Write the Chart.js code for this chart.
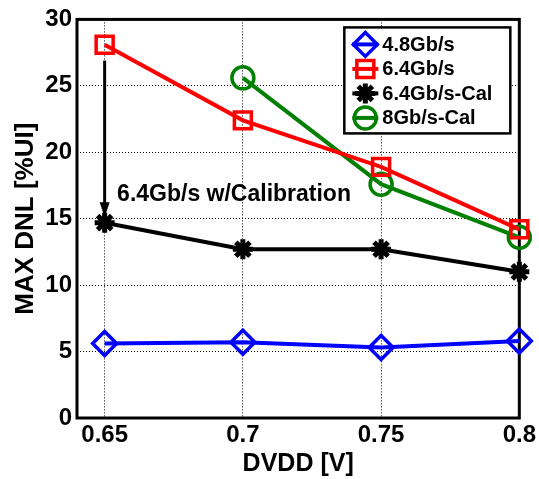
<!DOCTYPE html>
<html><head><meta charset="utf-8">
<script src="https://cdn.jsdelivr.net/npm/chart.js@4/dist/chart.umd.min.js"></script>
<style>html,body{margin:0;padding:0;background:#fff}#wrap{width:539px;height:479px}</style>
</head><body><div id="wrap"><canvas id="c" width="539" height="479"></canvas></div>
<script>
const xValues = [0.65, 0.7, 0.75, 0.8];
const xTickValues = [0.65, 0.7, 0.75, 0.8];
const xTickLabels = ['0.65', '0.7', '0.75', '0.8'];
const yTickValues = [0, 5, 10, 15, 20, 25, 30];
const seriesNames = ['4.8Gb/s', '6.4Gb/s', '6.4Gb/s-Cal', '8Gb/s-Cal'];
const s48 = [5.6, 5.7, 5.3, 5.8];
const s64 = [28.1, 22.4, 18.9, 14.2];
const s64cal = [14.7, 12.7, 12.7, 11.0];
const s8cal = [null, 25.6, 17.6, 13.6];
const xTitle = 'DVDD [V]';
const yTitle = 'MAX DNL [%UI]';
const annotationText = '6.4Gb/s w/Calibration';
const arrowFrom = [0.65, 26.9];
const arrowTo = [0.65, 15.1];
const annotationPos = [0.6545, 16.8];

const FONT = "'Liberation Sans', Arial, sans-serif";
const toPts = arr => xValues.map((x, i) => ({x: x, y: arr[i]})).filter(p => p.y !== null);

const styles = [
  {color: '#0000ff', pointStyle: 'rectRot', radius: 12, bw: 3.5},
  {color: '#ff0000', pointStyle: 'rect', radius: 12, bw: 3.5},
  {color: '#000000', pointStyle: 'star', radius: 10, bw: 5},
  {color: '#008000', pointStyle: 'circle', radius: 11, bw: 3.5}
];
const seriesData = [s48, s64, s64cal, s8cal];

const datasets = seriesData.map((arr, i) => ({
  label: seriesNames[i],
  data: toPts(arr),
  borderColor: styles[i].color,
  backgroundColor: 'rgba(0,0,0,0)',
  borderWidth: 4,
  pointStyle: styles[i].pointStyle,
  pointRadius: styles[i].radius,
  pointHoverRadius: styles[i].radius,
  pointBorderWidth: styles[i].bw,
  pointBorderColor: styles[i].color,
  pointBackgroundColor: 'rgba(0,0,0,0)',
  tension: 0,
  clip: false
}));

function drawMarker(ctx, st, x, y) {
  ctx.save();
  ctx.strokeStyle = st.color; ctx.lineWidth = st.bw; ctx.fillStyle = 'rgba(0,0,0,0)';
  if (Chart.helpers && Chart.helpers.drawPoint) {
    Chart.helpers.drawPoint(ctx, {pointStyle: st.pointStyle, rotation: 0, borderWidth: st.bw, radius: st.radius}, x, y);
  }
  ctx.restore();
}

const decor = {
  id: 'decor',
  beforeDatasetsDraw(chart) {
    const {ctx, chartArea: a} = chart;
    ctx.save();
    ctx.strokeStyle = '#000'; ctx.lineWidth = 3;
    ctx.strokeRect(a.left, a.top, a.right - a.left, a.bottom - a.top);
    ctx.restore();
  },
  afterDatasetsDraw(chart) {
    const {ctx, chartArea: a, scales} = chart;
    const xs = scales.x, ys = scales.y;
    const x0 = xs.getPixelForValue(arrowFrom[0]), y0 = ys.getPixelForValue(arrowFrom[1]);
    const x1 = xs.getPixelForValue(arrowTo[0]), y1 = ys.getPixelForValue(arrowTo[1]);
    ctx.save();
    ctx.strokeStyle = '#000'; ctx.fillStyle = '#000'; ctx.lineWidth = 3;
    ctx.beginPath(); ctx.moveTo(x0, y0); ctx.lineTo(x1, y1 - 12); ctx.stroke();
    ctx.beginPath(); ctx.moveTo(x1, y1); ctx.lineTo(x1 - 5, y1 - 15); ctx.lineTo(x1 + 5, y1 - 15); ctx.closePath(); ctx.fill();
    ctx.font = 'bold 23px ' + FONT;
    ctx.textBaseline = 'middle'; ctx.textAlign = 'left';
    ctx.fillText(annotationText, xs.getPixelForValue(annotationPos[0]), ys.getPixelForValue(annotationPos[1]));
    // legend
    const bw = 166, bh = 106;
    const bx = a.right - 9 - bw, by = a.top + 8;
    ctx.fillStyle = '#fff';
    ctx.fillRect(bx, by, bw, bh);
    ctx.strokeStyle = '#000'; ctx.lineWidth = 2.5;
    ctx.strokeRect(bx, by, bw, bh);
    ctx.font = 'bold 20px ' + FONT;
    seriesNames.forEach((name, i) => {
      const cy = by + 17 + i * 24.5;
      const mx = bx + 21;
      ctx.strokeStyle = styles[i].color; ctx.lineWidth = 4;
      ctx.beginPath(); ctx.moveTo(mx - 13, cy); ctx.lineTo(mx + 13, cy); ctx.stroke();
      drawMarker(ctx, styles[i], mx, cy);
      ctx.fillStyle = '#000';
      ctx.fillText(name, bx + 38, cy + 1);
    });
    ctx.restore();
  }
};

new Chart(document.getElementById('c'), {
  type: 'line',
  data: {datasets},
  options: {
    responsive: false, animation: false, devicePixelRatio: 1,
    layout: {padding: {top: 16, right: 17, left: 0, bottom: 0}},
    plugins: {legend: {display: false}, tooltip: {enabled: false}},
    scales: {
      x: {
        type: 'linear', min: 0.64, max: 0.8,
        afterBuildTicks: s => { s.ticks = xTickValues.map(v => ({value: v})); },
        afterFit: s => { s.height = 61; },
        ticks: {
          callback: (v) => { const i = xTickValues.findIndex(t => Math.abs(t - v) < 1e-9); return i >= 0 ? xTickLabels[i] : ''; },
          color: '#000', font: {family: FONT, size: 24, weight: 'bold'}, padding: 3, maxRotation: 0, autoSkip: false
        },
        grid: {color: '#000', lineWidth: 1, drawTicks: false},
        border: {display: false, dash: [1, 2]},
        title: {display: true, text: xTitle, color: '#000', font: {family: FONT, size: 25, weight: 'bold'}, padding: {top: 0, bottom: 0}}
      },
      y: {
        type: 'linear', min: 0, max: 30,
        afterBuildTicks: s => { s.ticks = yTickValues.map(v => ({value: v})); },
        afterFit: s => { s.width = 77; },
        ticks: {color: '#000', font: {family: FONT, size: 24, weight: 'bold'}, padding: 5},
        grid: {color: '#000', lineWidth: 1, drawTicks: false},
        border: {display: false, dash: [1, 2]},
        title: {display: true, text: yTitle, color: '#000', font: {family: FONT, size: 26, weight: 'bold'}, padding: {top: 10, bottom: 0}}
      }
    }
  },
  plugins: [decor]
});
</script>
</body></html>
